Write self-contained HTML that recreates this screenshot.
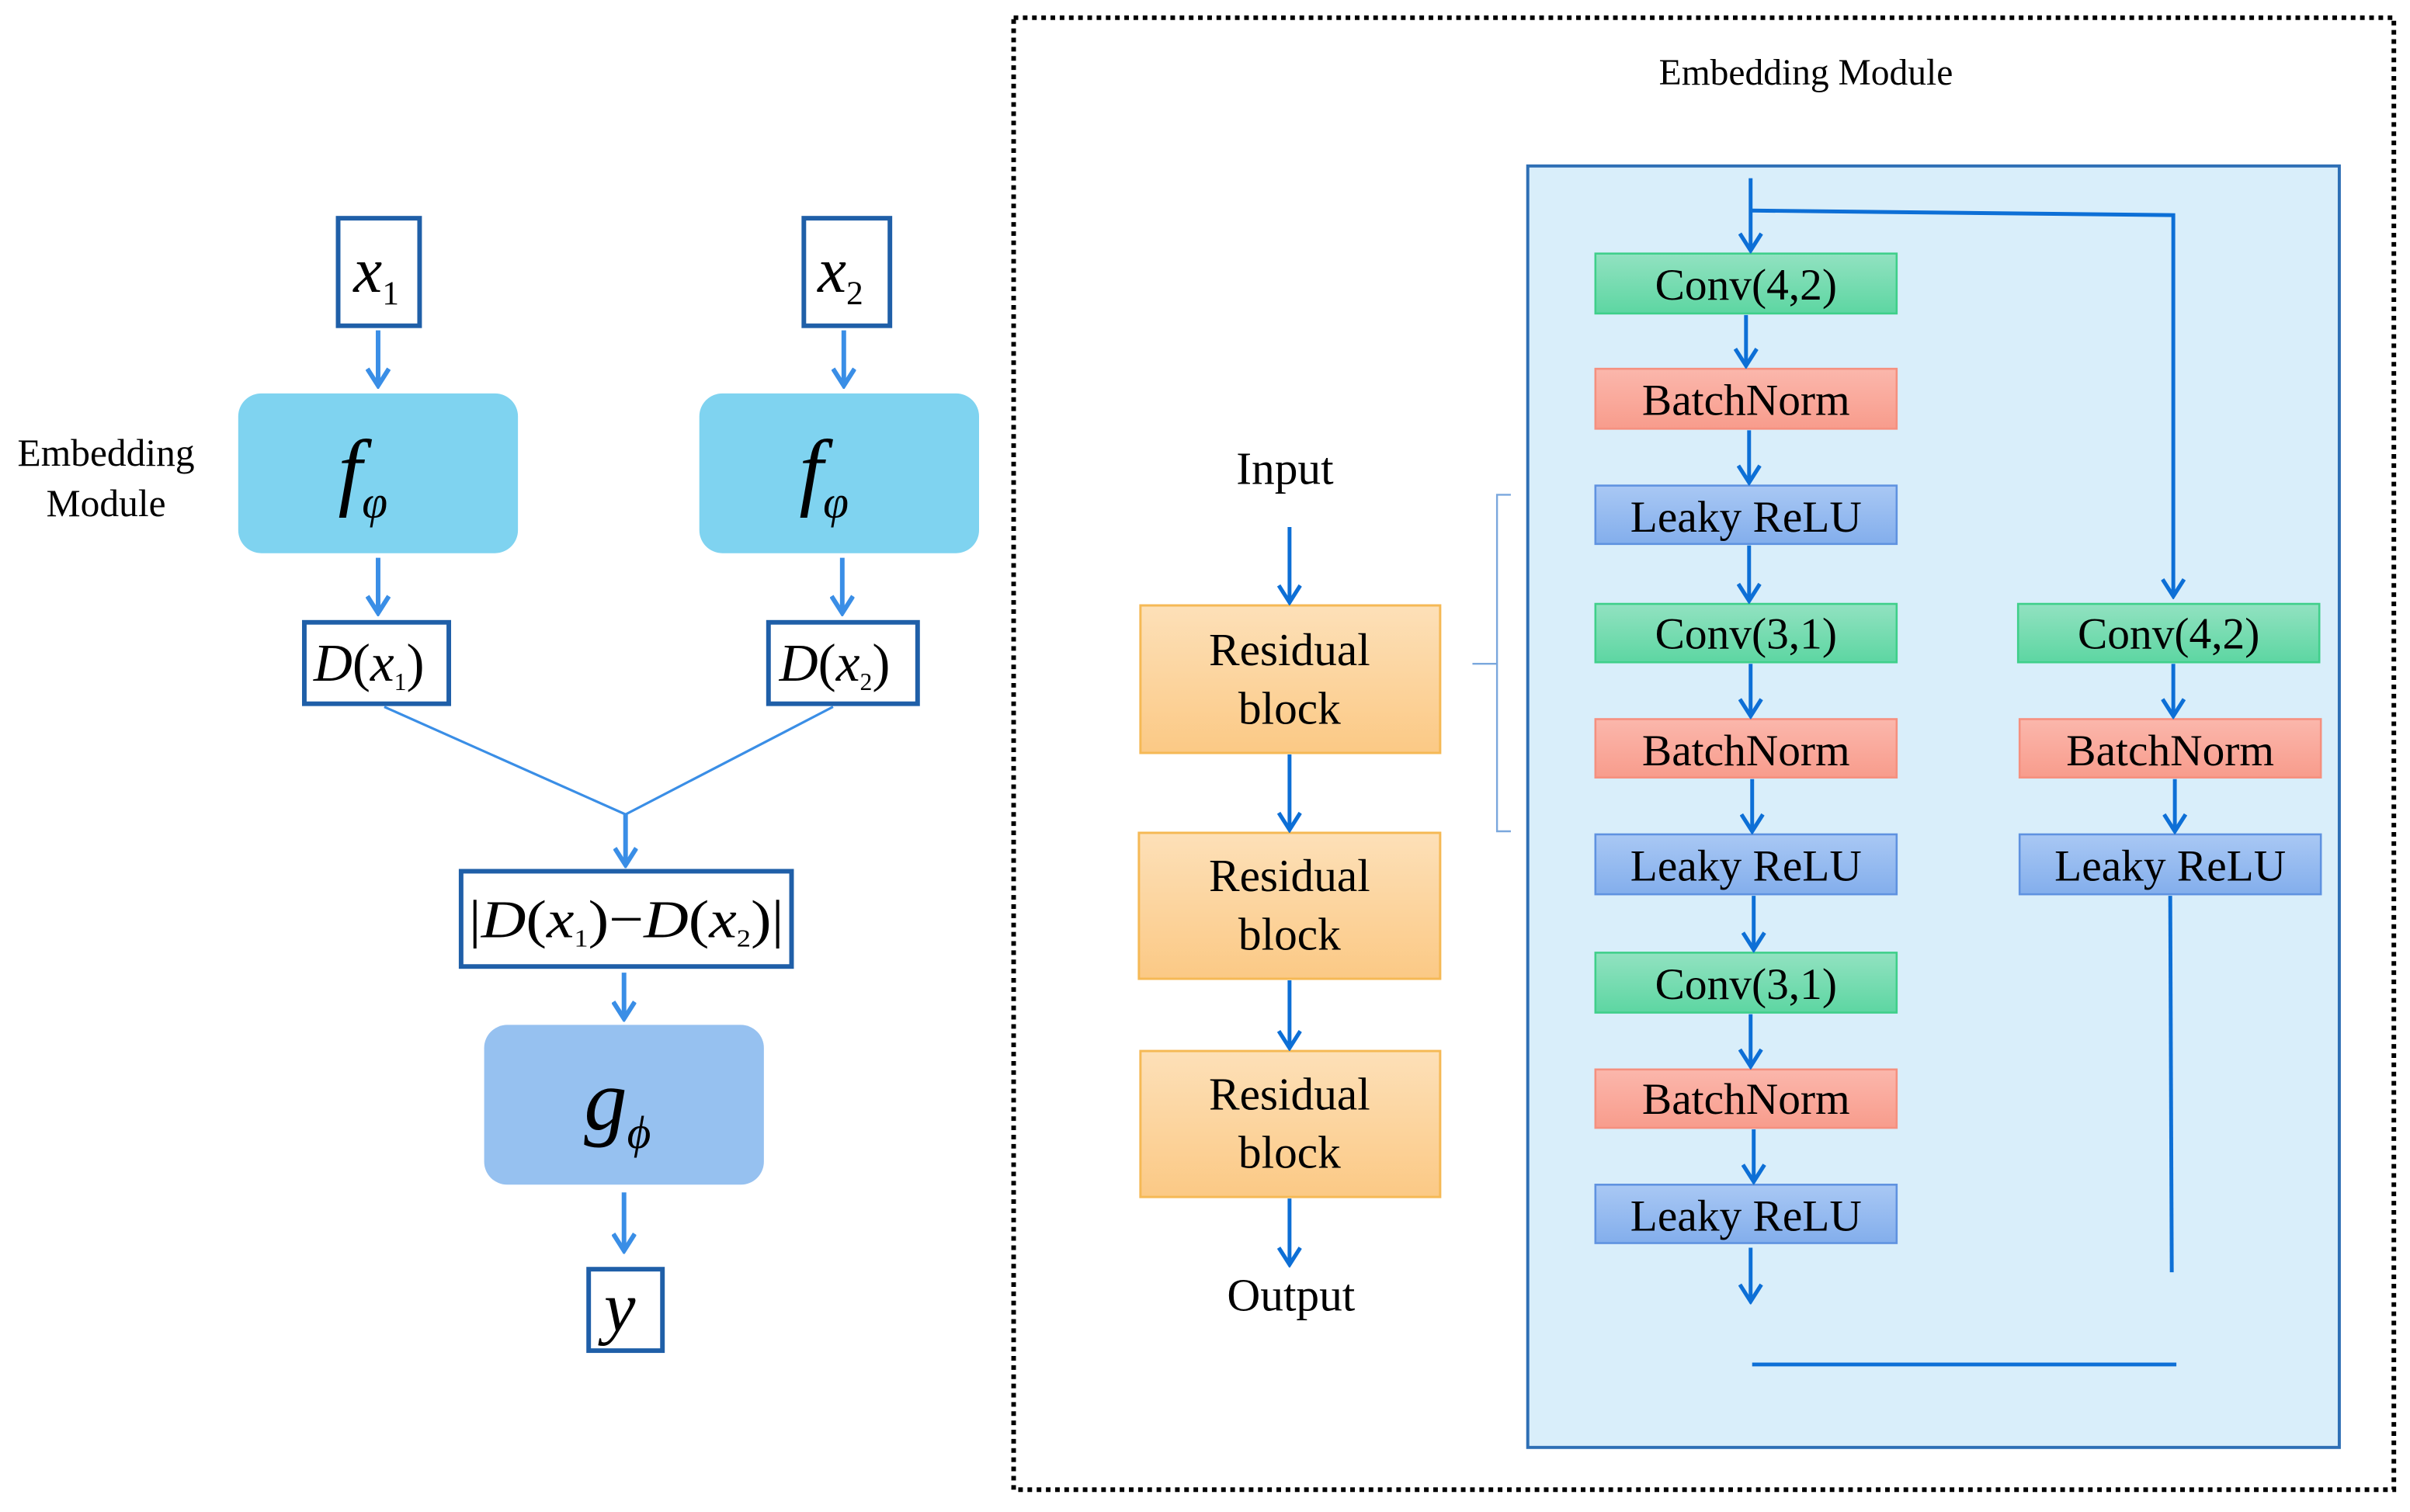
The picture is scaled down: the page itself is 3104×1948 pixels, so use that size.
<!DOCTYPE html>
<html><head><meta charset="utf-8"><style>
html,body{margin:0;padding:0;background:#fff;}
svg{display:block;}
text{font-family:"Liberation Serif","Times New Roman",serif;fill:#000;}
</style></head><body>
<svg width="3104" height="1948" viewBox="0 0 1568 984" xmlns="http://www.w3.org/2000/svg" font-family="Liberation Serif, serif">
<defs>
<marker id="a" markerWidth="16" markerHeight="16" refX="14" refY="8" orient="auto" markerUnits="userSpaceOnUse" viewBox="0 0 16 16"><path d="M3,1 L14,8 L3,15" fill="none" stroke="#3a8ee6" stroke-width="3"/></marker>
<marker id="b" markerWidth="16" markerHeight="16" refX="14" refY="8" orient="auto" markerUnits="userSpaceOnUse" viewBox="0 0 16 16"><path d="M3,1 L14,8 L3,15" fill="none" stroke="#0d6fd6" stroke-width="2.6"/></marker>
<linearGradient id="gg" x1="0" y1="0" x2="0" y2="1"><stop offset="0" stop-color="#92e2c1"/><stop offset="1" stop-color="#5dd6a2"/></linearGradient>
<linearGradient id="gr" x1="0" y1="0" x2="0" y2="1"><stop offset="0" stop-color="#fbb7ac"/><stop offset="1" stop-color="#f89c8c"/></linearGradient>
<linearGradient id="gb" x1="0" y1="0" x2="0" y2="1"><stop offset="0" stop-color="#a9c8f4"/><stop offset="1" stop-color="#83aeec"/></linearGradient>
<linearGradient id="go" x1="0" y1="0" x2="0" y2="1"><stop offset="0" stop-color="#fde0b8"/><stop offset="1" stop-color="#fbc985"/></linearGradient>
</defs>

<g stroke="#1f5fa8" stroke-width="3" fill="#fff">
<rect x="220" y="142" width="53" height="70"/>
<rect x="523" y="142" width="56" height="70"/>
<rect x="198" y="405" width="94" height="53"/>
<rect x="500" y="405" width="97" height="53"/>
<rect x="300" y="567" width="215" height="62"/>
<rect x="383" y="826" width="48" height="53"/>
</g>
<rect x="155" y="256" width="182" height="104" rx="15" fill="#7fd3f0"/>
<rect x="455" y="256" width="182" height="104" rx="15" fill="#7fd3f0"/>
<rect x="315" y="667" width="182" height="104" rx="15" fill="#96c1f0"/>
<g stroke="#3a8ee6" stroke-width="3" fill="none">
<line x1="246" y1="215" x2="246" y2="251" marker-end="url(#a)"/>
<line x1="549" y1="215" x2="549" y2="251" marker-end="url(#a)"/>
<line x1="246" y1="363" x2="246" y2="399" marker-end="url(#a)"/>
<line x1="548" y1="363" x2="548" y2="399" marker-end="url(#a)"/>
<line x1="407" y1="530" x2="407" y2="563" marker-end="url(#a)"/>
<line x1="406" y1="633" x2="406" y2="663" marker-end="url(#a)"/>
<line x1="406" y1="776" x2="406" y2="814" marker-end="url(#a)"/>
</g>
<g stroke="#3a8ee6" stroke-width="1.6" fill="none">
<polyline points="250,460 407,530 542,460"/>
</g>
<g font-style="italic">
<text x="230" y="190" font-size="42">x<tspan font-size="22" font-style="normal" dy="8">1</tspan></text>
<text x="532" y="190" font-size="42">x<tspan font-size="22" font-style="normal" dy="8">2</tspan></text>
<text x="220" y="325" font-size="56">f<tspan font-size="30" dy="12">φ</tspan></text>
<text x="520" y="325" font-size="56">f<tspan font-size="30" dy="12">φ</tspan></text>
<text x="380" y="735" font-size="56">g<tspan font-size="30" dy="12">ϕ</tspan></text>
<text x="393" y="866" font-size="46">y</text>
<text x="204" y="443" font-size="35">D<tspan font-style="normal">(</tspan>x<tspan font-size="16" font-style="normal" dy="6">1</tspan><tspan font-style="normal" dy="-6">)</tspan></text>
<text x="507" y="443" font-size="35">D<tspan font-style="normal">(</tspan>x<tspan font-size="16" font-style="normal" dy="6">2</tspan><tspan font-style="normal" dy="-6">)</tspan></text>
<text x="305" y="610" font-size="35" textLength="205" lengthAdjust="spacingAndGlyphs"><tspan font-style="normal">|</tspan>D<tspan font-style="normal">(</tspan>x<tspan font-size="16" font-style="normal" dy="6">1</tspan><tspan font-style="normal" dy="-6">)−</tspan>D<tspan font-style="normal">(</tspan>x<tspan font-size="16" font-style="normal" dy="6">2</tspan><tspan font-style="normal" dy="-6">)|</tspan></text>
</g>
<text x="69" y="303" font-size="25" text-anchor="middle">Embedding</text>
<text x="69" y="336" font-size="25" text-anchor="middle">Module</text>

<rect x="659.5" y="11.5" width="898" height="958" fill="none" stroke="#000" stroke-width="3" stroke-dasharray="3,3"/>
<text x="1175" y="55" font-size="24" text-anchor="middle">Embedding Module</text>
<rect x="994" y="108" width="528" height="834" fill="#d9eefa" stroke="#2e6fb5" stroke-width="2"/>

<path d="M983,322 L974,322 L974,432 L958,432 M974,432 L974,541 L983,541" fill="none" stroke="#7aa7dd" stroke-width="1.2"/>

<g fill="url(#go)" stroke="#f5b955" stroke-width="1.5">
<rect x="742" y="394" width="195" height="96"/>
<rect x="741" y="542" width="196" height="95"/>
<rect x="742" y="684" width="195" height="95"/>
</g>
<g font-size="30" text-anchor="middle">
<text x="839" y="433">Residual</text><text x="839" y="471">block</text>
<text x="839" y="580">Residual</text><text x="839" y="618">block</text>
<text x="839" y="722">Residual</text><text x="839" y="760">block</text>
<text x="836" y="315">Input</text>
<text x="840" y="853">Output</text>
</g>

<g stroke-width="1.3">
<rect x="1038" y="165" width="196" height="39" fill="url(#gg)" stroke="#3fcf8a"/>
<rect x="1038" y="240" width="196" height="39" fill="url(#gr)" stroke="#f5907f"/>
<rect x="1038" y="316" width="196" height="38" fill="url(#gb)" stroke="#5f92e0"/>
<rect x="1038" y="393" width="196" height="38" fill="url(#gg)" stroke="#3fcf8a"/>
<rect x="1038" y="468" width="196" height="38" fill="url(#gr)" stroke="#f5907f"/>
<rect x="1038" y="543" width="196" height="39" fill="url(#gb)" stroke="#5f92e0"/>
<rect x="1038" y="620" width="196" height="39" fill="url(#gg)" stroke="#3fcf8a"/>
<rect x="1038" y="696" width="196" height="38" fill="url(#gr)" stroke="#f5907f"/>
<rect x="1038" y="771" width="196" height="38" fill="url(#gb)" stroke="#5f92e0"/>
<rect x="1313" y="393" width="196" height="38" fill="url(#gg)" stroke="#3fcf8a"/>
<rect x="1314" y="468" width="196" height="38" fill="url(#gr)" stroke="#f5907f"/>
<rect x="1314" y="543" width="196" height="39" fill="url(#gb)" stroke="#5f92e0"/>
</g>
<g font-size="29" text-anchor="middle">
<text x="1136" y="195">Conv(4,2)</text>
<text x="1136" y="270">BatchNorm</text>
<text x="1136" y="346">Leaky ReLU</text>
<text x="1136" y="422">Conv(3,1)</text>
<text x="1136" y="498">BatchNorm</text>
<text x="1136" y="573">Leaky ReLU</text>
<text x="1136" y="650">Conv(3,1)</text>
<text x="1136" y="725">BatchNorm</text>
<text x="1136" y="801">Leaky ReLU</text>
<text x="1411" y="422">Conv(4,2)</text>
<text x="1412" y="498">BatchNorm</text>
<text x="1412" y="573">Leaky ReLU</text>
</g>

<g stroke="#0d6fd6" stroke-width="2.5" fill="none">
<line x1="839" y1="343" x2="839" y2="392" marker-end="url(#b)"/>
<line x1="839" y1="491" x2="839" y2="540" marker-end="url(#b)"/>
<line x1="839" y1="638" x2="839" y2="682" marker-end="url(#b)"/>
<line x1="839" y1="780" x2="839" y2="823" marker-end="url(#b)"/>
<line x1="1139" y1="116" x2="1139" y2="163" marker-end="url(#b)"/>
<polyline points="1139,137 1414,140 1414,388" marker-end="url(#b)"/>
<line x1="1136" y1="205" x2="1136" y2="238" marker-end="url(#b)"/>
<line x1="1138" y1="280" x2="1138" y2="314" marker-end="url(#b)"/>
<line x1="1138" y1="355" x2="1138" y2="391" marker-end="url(#b)"/>
<line x1="1139" y1="432" x2="1139" y2="466" marker-end="url(#b)"/>
<line x1="1140" y1="507" x2="1140" y2="541" marker-end="url(#b)"/>
<line x1="1141" y1="583" x2="1141" y2="618" marker-end="url(#b)"/>
<line x1="1139" y1="660" x2="1139" y2="694" marker-end="url(#b)"/>
<line x1="1141" y1="735" x2="1141" y2="769" marker-end="url(#b)"/>
<line x1="1139" y1="812" x2="1139" y2="847" marker-end="url(#b)"/>
<line x1="1414" y1="432" x2="1414" y2="466" marker-end="url(#b)"/>
<line x1="1415" y1="507" x2="1415" y2="541" marker-end="url(#b)"/>
<line x1="1412" y1="583" x2="1413" y2="828"/>
<line x1="1140" y1="888" x2="1416" y2="888"/>
</g>
</svg>
</body></html>
